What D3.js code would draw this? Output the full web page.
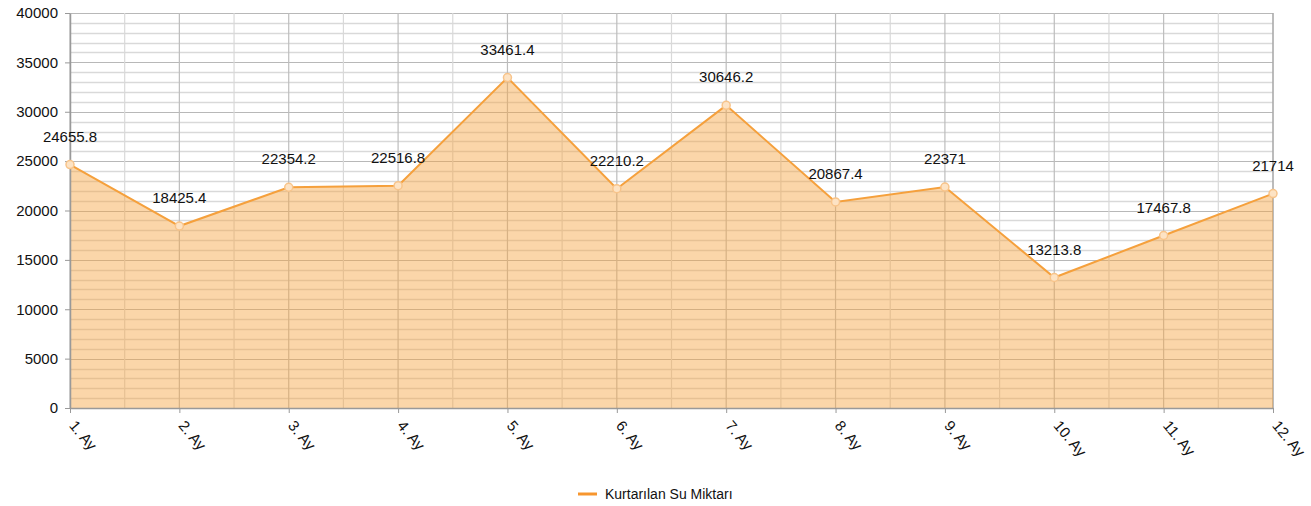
<!DOCTYPE html>
<html><head><meta charset="utf-8">
<script src="https://cdn.jsdelivr.net/npm/d3@7"></script>
<style>body{margin:0;background:#fff}text{font-family:"Liberation Sans",Arial,sans-serif;fill:#111}</style>
</head><body><svg id="c" width="1311" height="506"></svg>
<script>
const categories = ["1. Ay","2. Ay","3. Ay","4. Ay","5. Ay","6. Ay","7. Ay","8. Ay","9. Ay","10. Ay","11. Ay","12. Ay"];
const values = [24655.8,18425.4,22354.2,22516.8,33461.4,22210.2,30646.2,20867.4,22371,13213.8,17467.8,21714];
const yTicks = [0,5000,10000,15000,20000,25000,30000,35000,40000];
const seriesName = "Kurtarılan Su Miktarı";

const svg = d3.select("#c");
const L=70,R=1273,T=13,B=408;
const x = d3.scalePoint().domain(categories).range([L,R]);
const y = d3.scaleLinear().domain([0,40000]).range([B,T]);
const step = x.step();

const g = svg.append("g");
g.selectAll(".hm").data(d3.range(0,40001,1000)).join("line")
 .attr("x1",L).attr("x2",R).attr("y1",d=>Math.round(y(d))+0.5).attr("y2",d=>Math.round(y(d))+0.5)
 .attr("stroke",d=>d%5000===0?"#b8b8b8":"#d9d9d9").attr("stroke-width",d=>d%5000===0?1.2:1.3);
categories.forEach((c,i)=>{
  g.append("line").attr("x1",x(c)).attr("x2",x(c)).attr("y1",T).attr("y2",B).attr("stroke","#bdbdbd").attr("stroke-width",1.2);
  if(i<categories.length-1) g.append("line").attr("x1",x(c)+step/2).attr("x2",x(c)+step/2).attr("y1",T).attr("y2",B).attr("stroke","#d9d9d9").attr("stroke-width",1.2);
});
g.append("line").attr("x1",R).attr("x2",R).attr("y1",T).attr("y2",B).attr("stroke","#a0a0a0");

const area = d3.area().x((d,i)=>x(categories[i])).y0(B).y1(d=>y(d));
svg.append("path").datum(values).attr("d",area).attr("fill","#f7a541").attr("fill-opacity",0.45);
const line = d3.line().x((d,i)=>x(categories[i])).y(d=>y(d));
svg.append("path").datum(values).attr("d",line).attr("fill","none").attr("stroke","#f5a03c").attr("stroke-width",2);

const ya = svg.append("g").attr("transform",`translate(${L},0)`).call(d3.axisLeft(y).tickValues(yTicks).tickFormat(d3.format("d")).tickSize(5).tickSizeOuter(0).tickPadding(7));
ya.select(".domain").attr("stroke","#999").attr("stroke-width",1.5);
ya.selectAll(".tick line").attr("stroke","#999");
ya.selectAll("text").attr("font-size",15).attr("fill","#111").attr("font-family","Liberation Sans, Arial, sans-serif");
const xa = svg.append("g").attr("transform",`translate(0,${B})`).call(d3.axisBottom(x).tickSize(5).tickSizeOuter(0));
xa.select(".domain").attr("stroke","#999").attr("stroke-width",1.5);
xa.selectAll(".tick line").attr("stroke","#999");
xa.selectAll("text").attr("font-size",15).attr("fill","#111").attr("font-family","Liberation Sans, Arial, sans-serif")
  .attr("text-anchor","start").attr("dy",null).attr("y",0)
  .attr("transform","translate(-2,18) rotate(50)");

svg.selectAll(".mk").data(values).join("circle")
 .attr("cx",(d,i)=>x(categories[i])).attr("cy",d=>y(d)).attr("r",4)
 .attr("fill","#fde3c4").attr("stroke","#f8c48a").attr("stroke-width",1.5);

svg.selectAll(".lb").data(values).join("text")
 .attr("x",(d,i)=>x(categories[i])).attr("y",d=>y(d)-23)
 .attr("text-anchor","middle").attr("font-size",15).text(d=>d);

const lg = svg.append("g").attr("transform","translate(578,494)");
lg.append("line").attr("x1",0).attr("x2",19).attr("y1",0).attr("y2",0).attr("stroke","#f7962e").attr("stroke-width",3);
lg.append("text").attr("x",27).attr("y",5).attr("font-size",14).text(seriesName);
</script></body></html>
